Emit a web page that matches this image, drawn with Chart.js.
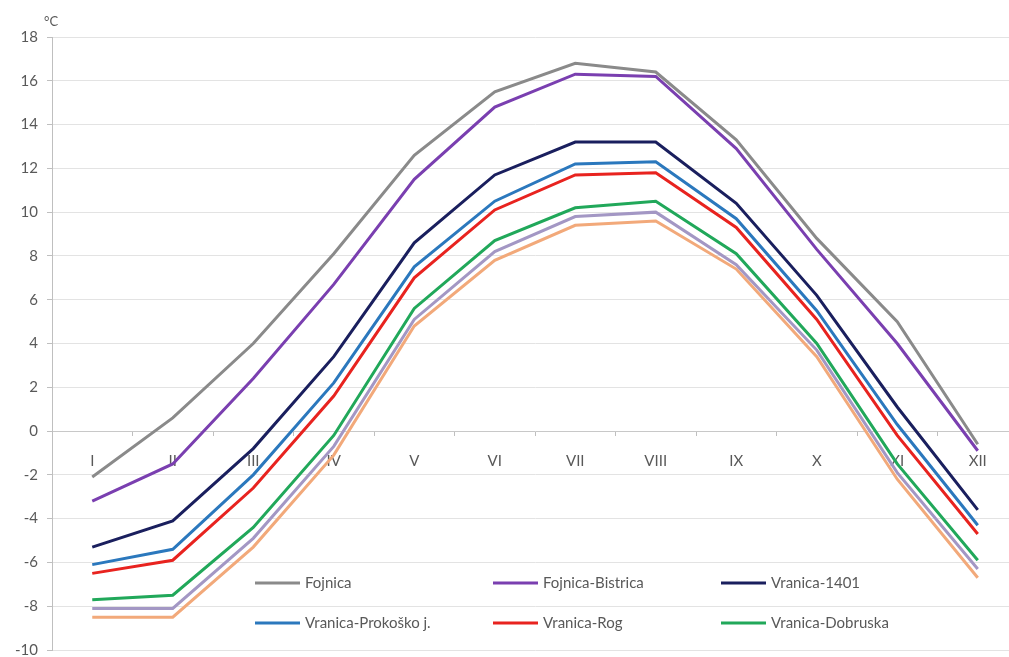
<!DOCTYPE html>
<html>
<head>
<meta charset="utf-8">
<script src="https://cdn.jsdelivr.net/npm/chart.js@4.4.1/dist/chart.umd.min.js"></script>
<style>
    html, body { margin: 0; padding: 0; background: #fff; overflow: hidden; }
    #wrap { width: 1020px; height: 668px; position: relative; }
</style>
</head>
<body>
<div id="wrap"><canvas id="chart"></canvas></div>
<script>
const months = ['I', 'II', 'III', 'IV', 'V', 'VI', 'VII', 'VIII', 'IX', 'X', 'XI', 'XII'];
const yTicks = [-10, -8, -6, -4, -2, 0, 2, 4, 6, 8, 10, 12, 14, 16, 18];

const fojnica = [-2.1, 0.6, 4.0, 8.1, 12.6, 15.5, 16.8, 16.4, 13.3, 8.8, 5.0, -0.6];
const fojnicaBistrica = [-3.2, -1.5, 2.4, 6.7, 11.5, 14.8, 16.3, 16.2, 12.9, 8.3, 4.0, -0.9];
const vranica1401 = [-5.3, -4.1, -0.8, 3.4, 8.6, 11.7, 13.2, 13.2, 10.4, 6.2, 1.1, -3.6];
const vranicaProkosko = [-6.1, -5.4, -2.0, 2.2, 7.5, 10.5, 12.2, 12.3, 9.7, 5.5, 0.3, -4.3];
const vranicaRog = [-6.5, -5.9, -2.6, 1.6, 7.0, 10.1, 11.7, 11.8, 9.3, 5.1, -0.2, -4.7];
const vranicaDobruska = [-7.7, -7.5, -4.4, -0.2, 5.6, 8.7, 10.2, 10.5, 8.1, 4.0, -1.5, -5.9];
const seriesSeven = [-8.1, -8.1, -4.9, -0.7, 5.1, 8.2, 9.8, 10.0, 7.6, 3.7, -1.9, -6.3];
const seriesEight = [-8.5, -8.5, -5.3, -1.1, 4.8, 7.8, 9.4, 9.6, 7.4, 3.4, -2.2, -6.7];

const seriesNames = ['Fojnica', 'Fojnica-Bistrica', 'Vranica-1401', 'Vranica-Prokoško j.', 'Vranica-Rog', 'Vranica-Dobruska', '', ''];
const seriesData = [fojnica, fojnicaBistrica, vranica1401, vranicaProkosko, vranicaRog, vranicaDobruska, seriesSeven, seriesEight];
const seriesColors = ['#8a8a8a', '#7a3fb0', '#1a1f5e', '#2b78bd', '#e8231f', '#21a85a', '#a397c4', '#f2a97a'];

const textColor = '#595959';
const fontFamily = 'Lato, "Open Sans", sans-serif';

const datasets = seriesData.map((data, i) => ({
    label: seriesNames[i],
    data: data,
    borderColor: seriesColors[i],
    backgroundColor: seriesColors[i],
    borderWidth: 3,
    pointRadius: 0,
    tension: 0,
    fill: false,
    order: i
}));

// legend drawn inside the plot area, 3 columns x 2 rows
const legendInside = {
    id: 'legendInside',
    afterDraw(chart) {
        const ctx = chart.ctx;
        const colX = [255, 493, 721];
        const rowY = [583, 623];
        ctx.save();
        ctx.font = '15px ' + fontFamily;
        ctx.textBaseline = 'middle';
        ctx.textAlign = 'left';
        chart.data.datasets.forEach((ds, i) => {
            if (!ds.label) {
                return;
            }
            const x = colX[i % 3];
            const y = rowY[Math.floor(i / 3)];
            ctx.strokeStyle = ds.borderColor;
            ctx.lineWidth = 3;
            ctx.beginPath();
            ctx.moveTo(x, y);
            ctx.lineTo(x + 45, y);
            ctx.stroke();
            ctx.fillStyle = textColor;
            ctx.fillText(ds.label, x + 50, y);
        });
        // unit label
        ctx.font = '13px ' + fontFamily;
        ctx.textBaseline = 'alphabetic';
        ctx.fillText('°C', 44, 26);
        ctx.restore();
    }
};

new Chart(document.getElementById('chart'), {
    type: 'line',
    data: { labels: months, datasets: datasets },
    plugins: [legendInside],
    options: {
        responsive: true,
        maintainAspectRatio: false,
        animation: false,
        layout: { padding: { top: 37, bottom: 7, left: 0, right: 2 } },
        plugins: {
            legend: { display: false },
            tooltip: { enabled: false }
        },
        scales: {
            x: {
                position: { y: 0 },
                offset: true,
                grid: {
                    offset: true,
                    drawOnChartArea: false,
                    tickLength: 4,
                    color: '#bfbfbf'
                },
                border: { color: '#c8c8c8', width: 1 },
                ticks: {
                    color: textColor,
                    padding: 17,
                    maxRotation: 0,
                    autoSkip: false,
                    font: { family: fontFamily, size: 15 }
                }
            },
            y: {
                min: yTicks[0],
                max: yTicks[yTicks.length - 1],
                afterBuildTicks: (scale) => {
                    scale.ticks = yTicks.map((v) => ({ value: v }));
                },
                afterFit: (scale) => {
                    scale.width = 52;
                },
                grid: {
                    color: '#e3e3e3',
                    tickLength: 5,
                    tickColor: '#bfbfbf'
                },
                border: { color: '#bfbfbf', width: 1 },
                ticks: {
                    color: textColor,
                    padding: 9,
                    font: { family: fontFamily, size: 15 }
                }
            }
        }
    }
});
</script>
</body>
</html>
